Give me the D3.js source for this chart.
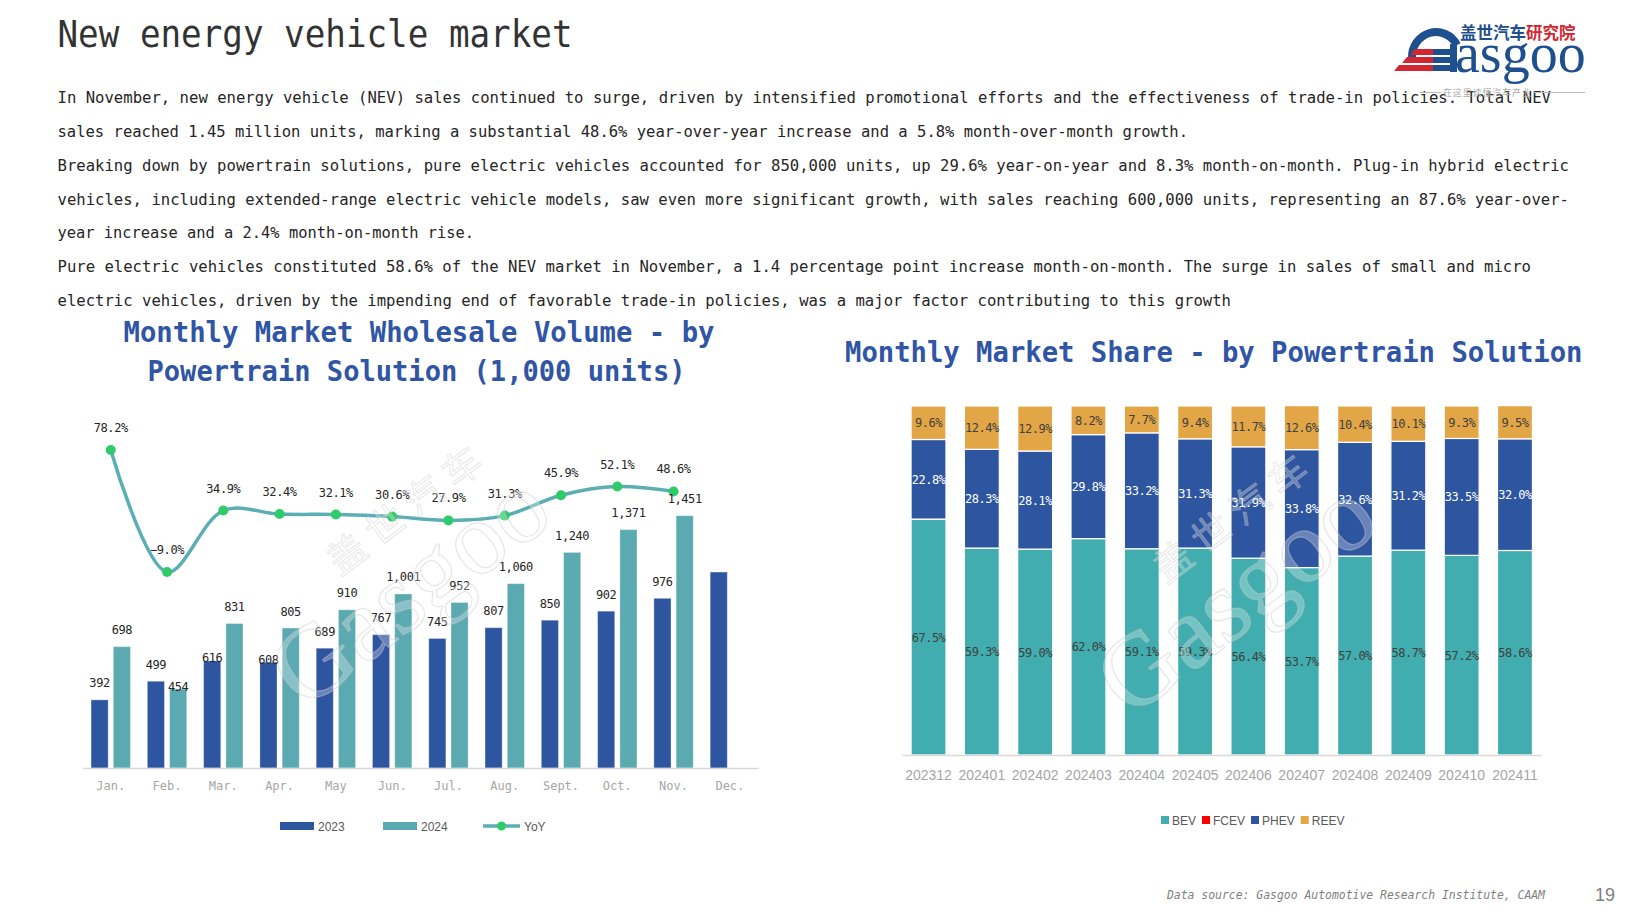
<!DOCTYPE html>
<html><head><meta charset="utf-8">
<script src="https://cdn.jsdelivr.net/npm/d3@7"></script>
<style>body{margin:0;background:#fff;} svg{display:block;}</style>
</head><body>
<svg id="c" width="1640" height="922"></svg>
<script>
// ---------------- DATA ----------------
const pageTitle = "New energy vehicle market";
const paragraphLines = [
  "In November, new energy vehicle (NEV) sales continued to surge, driven by intensified promotional efforts and the effectiveness of trade-in policies. Total NEV",
  "sales reached 1.45 million units, marking a substantial 48.6% year-over-year increase and a 5.8% month-over-month growth.",
  "Breaking down by powertrain solutions, pure electric vehicles accounted for 850,000 units, up 29.6% year-on-year and 8.3% month-on-month. Plug-in hybrid electric",
  "vehicles, including extended-range electric vehicle models, saw even more significant growth, with sales reaching 600,000 units, representing an 87.6% year-over-",
  "year increase and a 2.4% month-on-month rise.",
  "Pure electric vehicles constituted 58.6% of the NEV market in November, a 1.4 percentage point increase month-on-month. The surge in sales of small and micro",
  "electric vehicles, driven by the impending end of favorable trade-in policies, was a major factor contributing to this growth"
];
const leftTitleLines = ["Monthly Market Wholesale Volume - by", "Powertrain Solution (1,000 units)"];
const rightTitle = "Monthly Market Share - by Powertrain Solution";

const months = ["Jan.","Feb.","Mar.","Apr.","May","Jun.","Jul.","Aug.","Sept.","Oct.","Nov.","Dec."];
const sales2023 = [392, 499, 616, 608, 689, 767, 745, 807, 850, 902, 976, 1127];
const sales2024 = [698, 454, 831, 805, 910, 1001, 952, 1060, 1240, 1371, 1451, null];
const yoyPct   = [78.2, -9.0, 34.9, 32.4, 32.1, 30.6, 27.9, 31.3, 45.9, 52.1, 48.6, null];
const leftLegend = ["2023", "2024", "YoY"];

const periods = ["202312","202401","202402","202403","202404","202405","202406","202407","202408","202409","202410","202411"];
const shareKeys = ["BEV","FCEV","PHEV","REEV"];
const bevShare  = [67.5, 59.3, 59.0, 62.0, 59.1, 59.3, 56.4, 53.7, 57.0, 58.7, 57.2, 58.6];
const fcevShare = [0.1, 0.0, 0.0, 0.0, 0.0, 0.0, 0.0, 0.0, 0.0, 0.0, 0.0, 0.0];
const phevShare = [22.8, 28.3, 28.1, 29.8, 33.2, 31.3, 31.9, 33.8, 32.6, 31.2, 33.5, 32.0];
const reevShare = [9.6, 12.4, 12.9, 8.2, 7.7, 9.4, 11.7, 12.6, 10.4, 10.1, 9.3, 9.5];

const footerText = "Data source: Gasgoo Automotive Research Institute, CAAM";
const pageNumber = "19";

// ---------------- STYLE / LAYOUT ----------------
const MONO = "'DejaVu Sans Mono', monospace";
const SANS = "'Liberation Sans', Arial, sans-serif";
const CJK = "'Noto Sans CJK SC', sans-serif";
const SERIF = "'Liberation Serif', 'DejaVu Serif', serif";
const C23 = "#2E55A0", C24 = "#5BAAB2", CLINE = "#5AAEB4", CDOT = "#2FCB6A";
const shareColors = {BEV:"#41ADAE", FCEV:"#FF0000", PHEV:"#2E55A0", REEV:"#E2A646"};
const shareLabelColors = {BEV:"#404040", PHEV:"#ffffff", REEV:"#404040"};
const paraWidths = [1493.5, 1130.5, 1511.5, 1511.5, 416.5, 1473.5, 1173.5];
// labels that sit on the bar top instead of above it (as in the reference)
const lowLabels = {"Feb.-2024":1, "Mar.-2023":1, "Apr.-2023":1};

const svg = d3.select("#c");

// ---------------- HEADER ----------------
svg.append("text").attr("x",57.5).attr("y",47).attr("font-family",MONO)
  .attr("font-size",37).attr("fill","#333333")
  .attr("textLength",515).attr("lengthAdjust","spacingAndGlyphs").text(pageTitle);

paragraphLines.forEach((t,i)=>{
  svg.append("text").attr("x",57.5).attr("y",103 + i*33.85).attr("font-family",MONO)
    .attr("font-size",15.5).attr("fill","#262626")
    .attr("textLength",paraWidths[i]).attr("lengthAdjust","spacingAndGlyphs").text(t);
});

// logo
const logo = svg.append("g");
const cn = logo.append("text").attr("x",1460).attr("y",39).attr("font-family",CJK).attr("font-weight",700)
  .attr("font-size",16.5);
cn.append("tspan").attr("fill","#1E4F8E").text("盖世汽车");
cn.append("tspan").attr("fill","#D22630").text("研究院");
logo.append("path").attr("d","M1412,58 A24,25 0 0 1 1457,45").attr("fill","none")
  .attr("stroke","#1E4F8E").attr("stroke-width",8);
[[49,1410],[57,1402],[65,1394]].forEach(([yy,x0])=>{
  logo.append("path").attr("d",`M${x0+5},${yy} L1433,${yy} L1433,${yy+6} L${x0},${yy+6} Z`).attr("fill","#D22630");
  logo.append("rect").attr("x",1433).attr("y",yy).attr("width",24).attr("height",6).attr("fill","#1E4F8E");
});
logo.append("rect").attr("x",1450).attr("y",44).attr("width",7).attr("height",28).attr("fill","#1E4F8E");
logo.append("text").attr("x",1455).attr("y",72).attr("font-family",SERIF).attr("font-size",56)
  .attr("fill","#1E4F8E").text("asgoo");
logo.append("line").attr("x1",1420).attr("x2",1441).attr("y1",92.5).attr("y2",92.5).attr("stroke","#bbb");
logo.append("line").attr("x1",1533).attr("x2",1585).attr("y1",92.5).attr("y2",92.5).attr("stroke","#bbb");
logo.append("text").attr("x",1443).attr("y",96).attr("font-family",CJK).attr("font-size",9)
  .attr("fill","#aaa").attr("textLength",88).text("在这里读懂汽车产业");

// ---------------- LEFT CHART ----------------
const L = svg.append("g");
leftTitleLines.forEach((t,i)=>{
  const w = i===0 ? 591 : 538;
  const x = i===0 ? 123.5 : 147.5;
  L.append("text").attr("x",x).attr("y",i===0?342:381).attr("font-family",MONO).attr("font-weight",700)
    .attr("font-size",28).attr("fill","#2F55A4").attr("textLength",w)
    .attr("lengthAdjust","spacingAndGlyphs").text(t);
});

const rows = months.map((m,i)=>({m, v23:sales2023[i], v24:sales2024[i], yoy:yoyPct[i]}));
const xL = d3.scaleBand().domain(months).range([82.6,758]).paddingInner(0.3).paddingOuter(0.15);
const xL1 = d3.scaleBand().domain(["2023","2024"]).range([0,xL.bandwidth()]).paddingInner(0.23);
const yL = d3.scaleLinear().domain([0,1600]).range([768,489.8]);
const yY = d3.scaleLinear().domain([-20,100]).range([587.4,419.5]);

const series = [{key:"2023", f:d=>d.v23, c:C23},{key:"2024", f:d=>d.v24, c:C24}];
series.forEach(s=>{
  L.append("g").selectAll("rect").data(rows.filter(d=>s.f(d)!=null)).join("rect")
    .attr("x",d=>xL(d.m)+xL1(s.key)).attr("width",xL1.bandwidth())
    .attr("y",d=>yL(s.f(d))).attr("height",d=>yL(0)-yL(s.f(d)))
    .attr("fill",s.c).attr("stroke","#ffffff").attr("stroke-opacity",0.35).attr("stroke-width",1);
});

const axL = L.append("g").attr("transform","translate(0,768)")
  .call(d3.axisBottom(xL).tickSize(0).tickPadding(13));
axL.select(".domain").attr("stroke","#d9d9d9").attr("stroke-width",1.5);
axL.selectAll("text").attr("font-family",MONO).attr("font-size",12).attr("fill","#a6a6a6");

// watermark
function watermark(g, cx, cy){
  const w = g.append("g").attr("transform",`translate(${cx},${cy}) rotate(-37)`);
  w.append("text").attr("text-anchor","middle").attr("y",30).attr("font-family",SERIF)
    .attr("font-size",104).attr("fill","#ffffff").attr("fill-opacity",0.28)
    .attr("stroke","#c8c8c8").attr("stroke-opacity",0.45).attr("stroke-width",1.2).text("Gasgoo");
  w.append("text").attr("text-anchor","middle").attr("y",-56).attr("x",48).attr("font-family",CJK)
    .attr("font-size",38).attr("letter-spacing",10).attr("fill","#ffffff").attr("fill-opacity",0.28)
    .attr("stroke","#c8c8c8").attr("stroke-opacity",0.45).attr("stroke-width",1).text("盖世汽车");
}
watermark(svg, 412, 592);

// YoY line
const lineRows = rows.filter(d=>d.yoy!=null);
const cxL = d=>xL(d.m)+xL.bandwidth()/2;
L.append("path").datum(lineRows)
  .attr("d",d3.line().x(cxL).y(d=>yY(d.yoy)).curve(d3.curveCatmullRom))
  .attr("fill","none").attr("stroke",CLINE).attr("stroke-width",3.5);
L.append("g").selectAll("circle").data(lineRows).join("circle")
  .attr("cx",cxL).attr("cy",d=>yY(d.yoy)).attr("r",5).attr("fill",CDOT);

// bar labels
const fmt = d3.format(",");
series.forEach(s=>{
  L.append("g").selectAll("text").data(rows.filter(d=>s.f(d)!=null && !(s.key==="2023" && d.m==="Dec."))).join("text")
    .attr("x",d=>xL(d.m)+xL1(s.key)+xL1.bandwidth()/2)
    .attr("y",d=>yL(s.f(d)) - (lowLabels[d.m+"-"+s.key] ? -1.5 : 12.5))
    .attr("text-anchor","middle").attr("font-family",MONO).attr("font-size",12)
    .attr("letter-spacing",-0.4).attr("fill","#262626").text(d=>fmt(s.f(d)));
});
L.append("g").selectAll("text").data(lineRows).join("text")
  .attr("x",cxL).attr("y",d=>yY(d.yoy)-18).attr("text-anchor","middle")
  .attr("font-family",MONO).attr("font-size",12).attr("letter-spacing",-0.4)
  .attr("fill","#262626").text(d=>d3.format(".1f")(d.yoy)+"%");

// legend left
const lg = L.append("g");
lg.append("rect").attr("x",280).attr("y",822).attr("width",34).attr("height",8).attr("fill",C23);
lg.append("text").attr("x",318).attr("y",830.5).text(leftLegend[0]);
lg.append("rect").attr("x",383).attr("y",822).attr("width",34).attr("height",8).attr("fill",C24);
lg.append("text").attr("x",421).attr("y",830.5).text(leftLegend[1]);
lg.append("line").attr("x1",483).attr("x2",520).attr("y1",826).attr("y2",826).attr("stroke",CLINE).attr("stroke-width",3.5);
lg.append("circle").attr("cx",501.5).attr("cy",826).attr("r",4.5).attr("fill",CDOT);
lg.append("text").attr("x",524).attr("y",830.5).text(leftLegend[2]);
lg.selectAll("text").attr("font-family",SANS).attr("font-size",12).attr("fill","#595959");

// ---------------- RIGHT CHART ----------------
const R = svg.append("g");
R.append("text").attr("x",845).attr("y",362).attr("font-family",MONO).attr("font-weight",700)
  .attr("font-size",28).attr("fill","#2F55A4").attr("textLength",737.5)
  .attr("lengthAdjust","spacingAndGlyphs").text(rightTitle);

const table = periods.map((p,i)=>({period:p, BEV:bevShare[i], FCEV:fcevShare[i], PHEV:phevShare[i], REEV:reevShare[i]}));
const stacked = d3.stack().keys(shareKeys)(table);
const xR = d3.scaleBand().domain(periods).range([902,1541.5]).paddingInner(0.345).paddingOuter(0.17);
const yR = d3.scaleLinear().domain([0,100]).range([755,406]);

stacked.forEach(layer=>{
  R.append("g").selectAll("rect").data(layer).join("rect")
    .attr("x",d=>xR(d.data.period)).attr("width",xR.bandwidth())
    .attr("y",d=>yR(d[1])).attr("height",d=>Math.max(0,yR(d[0])-yR(d[1])))
    .attr("fill",shareColors[layer.key]).attr("stroke","#ffffff").attr("stroke-width",1.2);
});
const axR = R.append("g").attr("transform","translate(0,755)")
  .call(d3.axisBottom(xR).tickSize(0).tickPadding(15));
axR.select(".domain").attr("stroke","#d9d9d9").attr("stroke-width",1.5);
axR.selectAll("text").attr("font-family",SANS).attr("font-size",14).attr("fill","#a6a6a6");

watermark(svg, 1238, 600);

stacked.filter(l=>l.key!=="FCEV").forEach(layer=>{
  R.append("g").selectAll("text").data(layer).join("text")
    .attr("x",d=>xR(d.data.period)+xR.bandwidth()/2)
    .attr("y",d=>(yR(d[0])+yR(d[1]))/2+4.5)
    .attr("text-anchor","middle").attr("font-family",MONO).attr("font-size",12)
    .attr("letter-spacing",-0.5).attr("fill",shareLabelColors[layer.key])
    .text(d=>d3.format(".1f")(d.data[layer.key])+"%");
});

// legend right
let lx = 1161;
const lgr = R.append("g");
shareKeys.forEach(k=>{
  lgr.append("rect").attr("x",lx).attr("y",816).attr("width",8).attr("height",8).attr("fill",shareColors[k]);
  const t = lgr.append("text").attr("x",lx+11).attr("y",824.5).attr("font-family",SANS)
    .attr("font-size",12).attr("fill","#595959").text(k);
  lx += 11 + t.node().getComputedTextLength() + 6;
});

// ---------------- FOOTER ----------------
svg.append("text").attr("x",1167).attr("y",899).attr("font-family",MONO).attr("font-style","italic")
  .attr("font-size",12).attr("fill","#7f7f7f").attr("textLength",378)
  .attr("lengthAdjust","spacingAndGlyphs").text(footerText);
svg.append("text").attr("x",1595).attr("y",901).attr("font-family",SANS).attr("font-size",18)
  .attr("fill","#7f7f7f").text(pageNumber);
</script>
</body></html>
